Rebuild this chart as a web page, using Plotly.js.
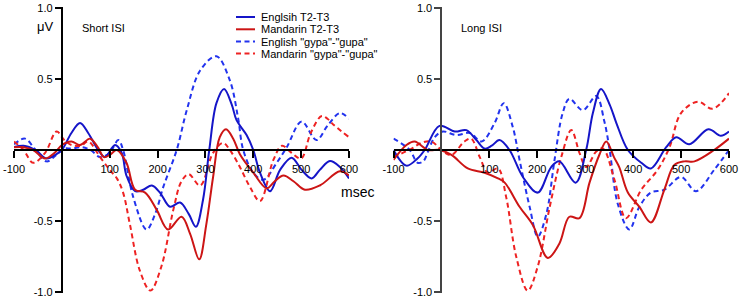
<!DOCTYPE html>
<html>
<head>
<meta charset="utf-8">
<script src="https://cdn.plot.ly/plotly-3.0.1.min.js"></script>
<style>html,body{margin:0;padding:0;background:#fff}#chart{width:743px;height:300px}</style>
</head>
<body>
<div id="chart"></div>
<script>
// ---- Data ----
const seriesNames = ['Englsih T2-T3', 'Mandarin T2-T3', 'English "gypa"-"gupa"', 'Mandarin "gypa"-"gupa"'];
const panelTitles = ['Short ISI', 'Long ISI'];
const xTickVals = [-100, 100, 200, 300, 400, 500, 600];
const yTickVals = [-1, -0.5, 0.5, 1];
const yTickText = ['-1.0', '-0.5', '0.5', '1.0'];

// Short ISI
const shortEnTone_x = [-100,-80,-55,-32,-12,0,20,38,55,76,90,111,125,135,153,170,188,205,226,247,265,280,295,308,323,339,355,365,386,400,414,435,456,480,501,522,539,560,581,600];
const shortEnTone_y = [0.02,0.03,0.0,-0.06,-0.03,0.0,0.12,0.19,0.12,0.0,-0.05,0.035,-0.02,-0.18,-0.29,-0.28,-0.25,-0.30,-0.40,-0.37,-0.45,-0.54,-0.35,0.0,0.33,0.43,0.32,0.21,0.105,0.0,-0.16,-0.29,-0.14,-0.054,-0.14,-0.2,-0.14,-0.078,-0.12,-0.2];
const shortMaTone_x = [-100,-80,-60,-35,-15,0,20,38,59,75,88,100,115,135,153,174,198,222,250,268,287,302,316,330,343,358,372,400,428,445,463,484,508,539,581,600];
const shortMaTone_y = [0.02,0.02,0.0,-0.06,-0.02,0.035,0.06,0.035,0.08,0.02,-0.05,-0.035,0.0,-0.09,-0.28,-0.30,-0.42,-0.56,-0.47,-0.59,-0.77,-0.52,-0.19,0.09,0.146,0.08,-0.03,-0.16,-0.27,-0.22,-0.18,-0.22,-0.28,-0.25,-0.15,-0.18];
const shortEnSeg_x = [-100,-77,-55,-32,-10,5,20,40,60,80,100,118,128,149,177,195,212,240,261,289,323,351,368,379,400,421,449,470,501,532,555,581,600];
const shortEnSeg_y = [0.04,0.08,0.0,-0.08,-0.03,0.01,0.01,0.02,0.0,-0.05,-0.02,0.07,0.0,-0.33,-0.56,-0.45,-0.26,0.0,0.28,0.56,0.66,0.49,0.23,0.0,-0.16,-0.21,-0.09,0.02,0.2,0.07,0.17,0.26,0.22];
const shortMaSeg_x = [-100,-80,-60,-35,-11,5,20,40,55,80,100,115,128,142,163,185,208,233,250,265,289,316,337,351,372,393,414,442,460,480,500,520,543,555,567,600];
const shortMaSeg_y = [0.06,0.0,-0.09,-0.02,0.13,0.07,0.035,0.03,0.06,-0.05,-0.14,-0.2,-0.30,-0.52,-0.85,-0.99,-0.82,-0.42,-0.22,-0.17,-0.25,-0.02,0.05,0.0,-0.12,-0.26,-0.36,-0.07,0.03,-0.02,-0.06,0.12,0.24,0.22,0.18,0.09];

// Long ISI
const longEnTone_x = [-100,-73,-50,-35,-4,28,52,73,90,105,121,142,170,201,229,246,280,302,316,333,351,365,389,417,437,469,490,517,557,583,600];
const longEnTone_y = [0.0,-0.11,-0.06,0.0,0.17,0.13,0.14,0.07,0.01,0.03,0.07,0.0,-0.19,-0.30,-0.12,-0.08,-0.23,0.0,0.26,0.43,0.32,0.19,0.0,-0.09,-0.13,0.02,0.09,0.04,0.146,0.1,0.13];
const longMaTone_x = [-100,-73,-56,-28,-4,21,55,90,118,132,163,191,222,246,267,288,309,330,344,360,371,389,413,437,465,486,507,528,569,600];
const longMaTone_y = [-0.07,0.035,0.06,0.0,0.0,-0.035,-0.13,-0.16,-0.2,-0.23,-0.40,-0.53,-0.76,-0.66,-0.47,-0.48,-0.23,-0.03,0.06,-0.05,-0.12,-0.3,-0.4,-0.51,-0.28,-0.106,-0.08,-0.08,0.0,0.08];
const longEnSeg_x = [-100,-66,-50,-38,-28,-14,3,31,59,84,111,130,149,163,184,201,219,236,253,267,295,323,340,351,368,392,413,437,465,500,531,569,600];
const longEnSeg_y = [0.08,0.0,-0.09,-0.08,-0.01,0.09,0.13,0.105,0.12,0.06,0.19,0.33,0.16,-0.07,-0.40,-0.61,-0.45,-0.07,0.26,0.36,0.28,0.38,0.2,0.0,-0.38,-0.56,-0.4,-0.3,-0.28,-0.19,-0.29,-0.14,0.0];
const longMaSeg_x = [-100,-62,-42,-21,3,21,48,62,80,97,118,135,156,180,201,226,250,271,288,302,323,337,361,385,417,451,476,500,535,566,600];
const longMaSeg_y = [-0.05,0.01,0.05,0.06,-0.01,-0.035,0.06,0.08,-0.05,-0.16,-0.13,-0.33,-0.75,-0.99,-0.82,-0.4,-0.05,0.14,-0.02,-0.12,-0.01,0.01,-0.21,-0.48,-0.28,-0.14,0.02,0.26,0.34,0.29,0.40];

// ---- Styles ----
const W = 743, H = 300;
const FONT = '"Liberation Sans", Arial, sans-serif';
const styles = [
  {color: '#1515c8', dash: 'solid'},
  {color: '#cc1515', dash: 'solid'},
  {color: '#2233ee', dash: '5px,3.5px'},
  {color: '#ee2222', dash: '5px,3.5px'}
];
const LW = 2;

function mk(x, y, i, xa, ya) {
  return {x: x, y: y, type: 'scatter', mode: 'lines', xaxis: xa, yaxis: ya,
    name: seriesNames[i], showlegend: false, hoverinfo: 'skip',
    line: {color: styles[i].color, width: LW, dash: styles[i].dash, shape: 'spline', smoothing: 1}};
}
const data = [
  mk(shortEnSeg_x, shortEnSeg_y, 2, 'x', 'y'),
  mk(shortMaSeg_x, shortMaSeg_y, 3, 'x', 'y'),
  mk(shortEnTone_x, shortEnTone_y, 0, 'x', 'y'),
  mk(shortMaTone_x, shortMaTone_y, 1, 'x', 'y'),
  mk(longEnSeg_x, longEnSeg_y, 2, 'x2', 'y2'),
  mk(longMaSeg_x, longMaSeg_y, 3, 'x2', 'y2'),
  mk(longEnTone_x, longEnTone_y, 0, 'x2', 'y2'),
  mk(longMaTone_x, longMaTone_y, 1, 'x2', 'y2')
];

// geometry in pixels
const L1 = 14, R1 = 349, L2 = 393.5, R2 = 729;
const yTop = 8, yBot = 292;
const xr = [-100, 600], yr = [-1.005, 1.005];
const unit = (yBot - yTop) / 2;
const dTop = 150 - unit * 1.005, dBot = 150 + unit * 1.005;
const yDom = [1 - dBot / H, 1 - dTop / H];
function xZero(L, R) { return (L + (R - L) * 100 / 700) / W; }

function xAx(L, R) {
  return {domain: [L / W, R / W], range: xr, anchor: 'free', position: 0.5,
    showgrid: false, zeroline: false, showline: true, linecolor: '#000', linewidth: 2,
    ticks: 'outside', ticklen: 7, tickwidth: 2, tickcolor: '#000', ticklabelstandoff: 2,
    tickvals: xTickVals, ticktext: xTickVals.map(String),
    tickfont: {family: FONT, size: 11, color: '#000'}, fixedrange: true};
}
function yAx(L, R, col) {
  return {domain: yDom, range: yr, anchor: 'free', position: xZero(L, R),
    showgrid: false, zeroline: false, showline: true, linecolor: col, linewidth: 2,
    ticks: 'outside', ticklen: 6, tickwidth: 2, tickcolor: col,
    tickvals: yTickVals, ticktext: yTickText,
    tickfont: {family: FONT, size: 11, color: '#000'}, fixedrange: true};
}

const ann = [];
const shapes = [];
function txt(t, x, y, size, xanchor) {
  ann.push({text: t, x: x / W, y: 1 - y / H, xref: 'paper', yref: 'paper',
    xanchor: xanchor || 'left', yanchor: 'middle', showarrow: false,
    font: {family: FONT, size: size, color: '#000'}});
}
txt('μV', 44.5, 26, 13, 'center');
txt(panelTitles[0], 80, 28.5, 11, 'left');
txt(panelTitles[1], 458.5, 27.5, 11, 'left');
txt('msec', 339, 192, 14, 'left');

// legend (manual, to match the reference's compact layout)
const legRows = [17, 29.3, 41.6, 53.5];
seriesNames.forEach(function (n, i) {
  shapes.push({type: 'line', xref: 'paper', yref: 'paper',
    x0: 236 / W, x1: 255 / W, y0: 1 - legRows[i] / H, y1: 1 - legRows[i] / H,
    line: {color: styles[i].color, width: LW, dash: styles[i].dash}});
  txt(n, 259, legRows[i], 11, 'left');
});

const layout = {
  width: W, height: H, margin: {l: 0, r: 0, t: 0, b: 0},
  paper_bgcolor: '#fff', plot_bgcolor: 'rgba(0,0,0,0)', showlegend: false,
  font: {family: FONT, size: 11, color: '#000'},
  xaxis: xAx(L1, R1), yaxis: yAx(L1, R1, '#000'),
  xaxis2: xAx(L2, R2), yaxis2: yAx(L2, R2, '#444'),
  annotations: ann, shapes: shapes
};
Plotly.newPlot('chart', data, layout, {staticPlot: true, displayModeBar: false});
</script>
</body>
</html>
